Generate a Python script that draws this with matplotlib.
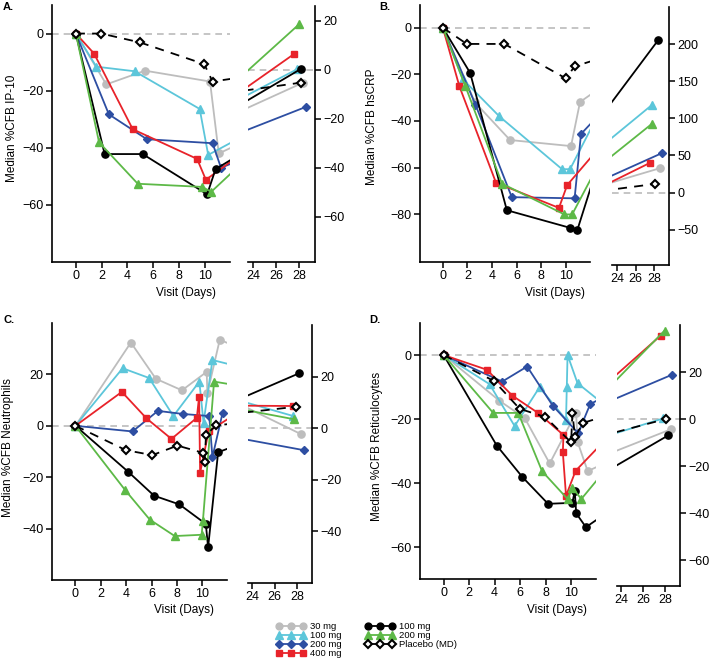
import matplotlib
matplotlib.use("Agg")
import matplotlib.pyplot as plt
from matplotlib.lines import Line2D

plt.rcParams['font.family'] = ['Liberation Sans', 'DejaVu Sans']

# ---------------- DATA ----------------
series_labels = ["30 mg", "100 mg", "200 mg", "400 mg", "100 mg", "200 mg", "Placebo (MD)"]
series_keys = ["sd30", "sd100", "sd200", "sd400", "md100", "md200", "pbo"]

# Panel A: IP-10
ip10_sd30_x = [0, 2.36, 5.36, 10.4, 11.08, 28.35]
ip10_sd30_y = [0, -17.8, -13.0, -16.8, -42.0, -5.3]
ip10_sd100_x = [0, 1.59, 4.55, 9.6, 10.26, 27.8]
ip10_sd100_y = [0, -11.6, -13.2, -26.4, -42.5, 0.1]
ip10_sd200_x = [0, 2.56, 5.5, 10.6, 11.25, 28.6]
ip10_sd200_y = [0, -28.3, -37.0, -38.4, -47.0, -15.2]
ip10_sd400_x = [0, 1.41, 4.41, 9.4, 10.08, 27.6]
ip10_sd400_y = [0, -7.0, -33.5, -43.9, -51.2, 6.5]
ip10_md100_x = [0, 2.23, 5.18, 10.18, 10.83, 28.2]
ip10_md100_y = [0, -42.2, -42.2, -56.3, -47.5, 0.4]
ip10_md200_x = [0, 1.8, 4.8, 9.78, 10.5, 28.0]
ip10_md200_y = [0, -38.1, -52.6, -53.7, -55.4, 18.5]
ip10_pbo_x = [0, 1.97, 4.97, 9.95, 10.6, 28.15]
ip10_pbo_y = [0, 0.0, -3.1, -10.7, -16.8, -5.3]

# Panel B: hsCRP
crp_sd30_x = [0, 2.6, 5.46, 10.41, 11.14, 28.6]
crp_sd30_y = [0, -32.0, -48.2, -50.8, -31.9, 32.8]
crp_sd100_x = [0, 1.6, 4.6, 9.68, 10.33, 27.75]
crp_sd100_y = [0, -22.0, -38.1, -60.7, -60.7, 118.0]
crp_sd200_x = [0, 2.65, 5.6, 10.7, 11.22, 28.8]
crp_sd200_y = [0, -33.0, -72.7, -73.2, -45.6, 53.0]
crp_sd400_x = [0, 1.35, 4.32, 9.43, 10.1, 27.6]
crp_sd400_y = [0, -25.2, -66.5, -77.3, -67.5, 40.4]
crp_md100_x = [0, 2.22, 5.2, 10.3, 10.92, 28.46]
crp_md100_y = [0, -19.4, -78.3, -85.8, -86.8, 205.8]
crp_md200_x = [0, 1.84, 4.81, 9.87, 10.5, 27.75]
crp_md200_y = [0, -25.2, -66.9, -80.1, -80.1, 92.6]
crp_pbo_x = [0, 1.95, 5.0, 10.0, 10.7, 28.1]
crp_pbo_y = [0, -7.0, -7.0, -21.8, -16.6, 11.7]

# Panel C: Neutrophils
neu_sd30_x = [0, 4.37, 6.34, 8.4, 10.35, 10.4, 11.38, 28.36]
neu_sd30_y = [0, 32.4, 18.3, 13.8, 21.0, 12.6, 33.5, -2.3]
neu_sd100_x = [0, 3.72, 5.81, 7.72, 9.77, 10.1, 10.8, 27.6]
neu_sd100_y = [0, 22.4, 18.6, 3.8, 17.2, 1.2, 25.6, 4.8]
neu_sd200_x = [0, 4.5, 6.5, 8.48, 10.55, 10.8, 11.6, 28.6]
neu_sd200_y = [0, -2.2, 5.8, 4.6, 3.8, -12.2, 5.0, -8.5]
neu_sd400_x = [0, 3.66, 5.6, 7.57, 9.57, 9.75, 9.83, 10.5, 14.0, 27.6]
neu_sd400_y = [0, 13.2, 2.9, -5.1, 3.1, 11.4, -18.3, -2.2, 9.0, 8.6]
neu_md100_x = [0, 4.16, 6.2, 8.2, 10.28, 10.46, 11.25, 28.2]
neu_md100_y = [0, -17.9, -27.2, -30.6, -38.2, -47.3, -10.3, 21.3]
neu_md200_x = [0, 3.9, 5.86, 7.83, 9.95, 10.05, 10.93, 27.7]
neu_md200_y = [0, -24.9, -36.5, -42.9, -42.4, -37.0, 17.2, 3.5]
neu_pbo_x = [0, 3.98, 6.07, 8.04, 10.05, 10.18, 10.3, 11.1, 27.9]
neu_pbo_y = [0, -9.5, -11.4, -7.7, -10.5, -14.1, -3.5, 0.2, 8.3]

# Panel D: Reticulocytes
ret_sd30_x = [0, 4.38, 6.36, 8.32, 10.39, 10.5, 11.3, 28.5]
ret_sd30_y = [0, -14.3, -19.7, -33.9, -18.0, -27.1, -36.3, -4.4]
ret_sd100_x = [0, 3.6, 5.57, 7.52, 9.6, 9.66, 9.72, 10.5, 14.0, 27.85]
ret_sd100_y = [0, -9.1, -22.2, -10.1, -20.2, -10.1, 0.0, -8.8, -20.0, 0.3]
ret_sd200_x = [0, 4.6, 6.55, 8.55, 10.57, 10.93, 11.5, 28.65]
ret_sd200_y = [0, -8.3, -3.6, -15.8, -24.5, -20.8, -15.3, 18.9]
ret_sd400_x = [0, 3.39, 5.39, 7.4, 9.4, 9.35, 9.6, 10.35, 27.6]
ret_sd400_y = [0, -4.6, -12.7, -18.1, -25.0, -30.4, -44.0, -36.2, 35.5]
ret_md100_x = [0, 4.17, 6.17, 8.19, 10.1, 10.28, 10.4, 11.16, 28.3]
ret_md100_y = [0, -28.3, -38.1, -46.5, -46.2, -42.5, -49.5, -53.8, -6.9]
ret_md200_x = [0, 3.89, 5.85, 7.72, 9.72, 10.1, 10.8, 27.95]
ret_md200_y = [0, -18.1, -18.1, -36.3, -45.0, -41.5, -45.0, 37.6]
ret_pbo_x = [0, 3.98, 5.96, 7.98, 10.0, 10.1, 10.3, 10.96, 28.05]
ret_pbo_y = [0, -8.2, -16.8, -19.4, -27.3, -18.2, -25.5, -21.2, 0.0]

left_xticks = [0, 2, 4, 6, 8, 10]
right_xticks = [24, 26, 28]

# ---------------- STYLE ----------------
STY = {
    "sd30": dict(color="#BDBDBD", marker="o", ms=5.2, ls="-"),
    "sd100": dict(color="#5CC6DA", marker="^", ms=6.2, ls="-"),
    "sd200": dict(color="#2D4EA2", marker="D", ms=4.5, ls="-"),
    "sd400": dict(color="#E8232A", marker="s", ms=5.0, ls="-"),
    "md100": dict(color="#000000", marker="o", ms=5.2, ls="-"),
    "md200": dict(color="#5DB947", marker="^", ms=6.2, ls="-"),
    "pbo": dict(color="#000000", marker="D", ms=4.3, ls=(0, (5, 4)), mfc="white", mec="black", mew=1.5),
}

W, H = 709, 663
fig = plt.figure(figsize=(W / 100, H / 100), dpi=100)


def ax_px(x0, x1, ytop, ybot):
    return fig.add_axes([x0 / W, 1 - ybot / H, (x1 - x0) / W, (ybot - ytop) / H])


def style_axes(ax, side):
    ax.spines["top"].set_visible(False)
    if side == "left":
        ax.spines["right"].set_visible(False)
    else:
        ax.spines["left"].set_visible(False)
        ax.yaxis.tick_right()
    for s in ax.spines.values():
        s.set_linewidth(1.2)
    ax.tick_params(labelsize=9, length=4, width=1.1, direction="out", pad=2)
    ax.set_facecolor("none")


def draw(axL, axR, data, ylimL, ylimR, yticksL, yticksR, xlimR):
    for ax in (axL, axR):
        ax.axhline(0, color="#BBBBBB", lw=1.2, ls=(0, (4, 3)), zorder=0)
        for key in series_keys:
            x, y = data[key]
            st = dict(STY[key])
            ax.plot(x, y, lw=1.3, clip_on=True, **st)
    axL.set_xlim(-1.85, 11.95)
    axR.set_xlim(*xlimR)
    axL.set_ylim(*ylimL)
    axR.set_ylim(*ylimR)
    axL.set_xticks(left_xticks)
    axR.set_xticks(right_xticks)
    axL.set_yticks(yticksL)
    axR.set_yticks(yticksR)
    axL.set_yticklabels([f"{v:g}".replace("-", "\u2212") for v in yticksL])
    axR.set_yticklabels([f"{v:g}".replace("-", "\u2212") for v in yticksR])
    style_axes(axL, "left")
    style_axes(axR, "right")


# Panel A
aL = ax_px(52, 230, 5, 262)
aR = ax_px(248, 315, 6, 262)
draw(aL, aR,
     {"sd30": (ip10_sd30_x, ip10_sd30_y), "sd100": (ip10_sd100_x, ip10_sd100_y),
      "sd200": (ip10_sd200_x, ip10_sd200_y), "sd400": (ip10_sd400_x, ip10_sd400_y),
      "md100": (ip10_md100_x, ip10_md100_y), "md200": (ip10_md200_x, ip10_md200_y),
      "pbo": (ip10_pbo_x, ip10_pbo_y)},
     (-80, 10), (-78.5, 26), [0, -20, -40, -60], [20, 0, -20, -40, -60], (23.55, 29.4))

# Panel B
bL = ax_px(420, 590, 5, 262)
bR = ax_px(612, 669, 7, 265)
draw(bL, bR,
     {"sd30": (crp_sd30_x, crp_sd30_y), "sd100": (crp_sd100_x, crp_sd100_y),
      "sd200": (crp_sd200_x, crp_sd200_y), "sd400": (crp_sd400_x, crp_sd400_y),
      "md100": (crp_md100_x, crp_md100_y), "md200": (crp_md200_x, crp_md200_y),
      "pbo": (crp_pbo_x, crp_pbo_y)},
     (-100.5, 9.7), (-97.5, 250), [0, -20, -40, -60, -80], [200, 150, 100, 50, 0, -50], (23.45, 29.6))

# Panel C
cL = ax_px(52, 227, 323, 580)
cR = ax_px(248, 312, 325, 583)
draw(cL, cR,
     {"sd30": (neu_sd30_x, neu_sd30_y), "sd100": (neu_sd100_x, neu_sd100_y),
      "sd200": (neu_sd200_x, neu_sd200_y), "sd400": (neu_sd400_x, neu_sd400_y),
      "md100": (neu_md100_x, neu_md100_y), "md200": (neu_md200_x, neu_md200_y),
      "pbo": (neu_pbo_x, neu_pbo_y)},
     (-60, 40), (-60, 40), [20, 0, -20, -40], [20, 0, -20, -40], (23.6, 29.35))

# Panel D
dL = ax_px(420, 596, 323, 579)
dR = ax_px(617, 680, 325, 586)
draw(dL, dR,
     {"sd30": (ret_sd30_x, ret_sd30_y), "sd100": (ret_sd100_x, ret_sd100_y),
      "sd200": (ret_sd200_x, ret_sd200_y), "sd400": (ret_sd400_x, ret_sd400_y),
      "md100": (ret_md100_x, ret_md100_y), "md200": (ret_md200_x, ret_md200_y),
      "pbo": (ret_pbo_x, ret_pbo_y)},
     (-70, 10), (-71, 40), [0, -20, -40, -60], [20, 0, -20, -40, -60], (23.65, 29.35))


def ftext(x, y, s, **kw):
    fig.text(x / W, 1 - y / H, s, **kw)


# Panel letters
ftext(3, 2, "A.", fontsize=8, fontweight="bold", va="top", ha="left")
ftext(379, 2, "B.", fontsize=8, fontweight="bold", va="top", ha="left")
ftext(3, 315, "C.", fontsize=8, fontweight="bold", va="top", ha="left")
ftext(369, 315, "D.", fontsize=8, fontweight="bold", va="top", ha="left")

# y labels
ftext(12, 128, "Median %CFB IP-10", fontsize=8.5, rotation=90, va="center", ha="center")
ftext(372, 127, "Median %CFB hsCRP", fontsize=8.5, rotation=90, va="center", ha="center")
ftext(8, 448, "Median %CFB Neutrophils", fontsize=8.5, rotation=90, va="center", ha="center")
ftext(377, 446, "Median %CFB Reticulocytes", fontsize=8.5, rotation=90, va="center", ha="center")

# x labels
ftext(186, 293, "Visit (Days)", fontsize=8.5, va="center", ha="center")
ftext(555, 293, "Visit (Days)", fontsize=8.5, va="center", ha="center")
ftext(184, 610, "Visit (Days)", fontsize=8.5, va="center", ha="center")
ftext(557, 610, "Visit (Days)", fontsize=8.5, va="center", ha="center")

# Legend
handles = []
for key in series_keys:
    st = dict(STY[key])
    st["ms"] = st["ms"] * 0.95
    handles.append(Line2D([], [], lw=1.3, **st))
fig.legend(handles, series_labels, ncol=2, loc="upper left",
           bbox_to_anchor=(276 / W, 1 - 622 / H), frameon=False, fontsize=6.8,
           handlelength=3.2, numpoints=3, labelspacing=0.0, columnspacing=2.4,
           handletextpad=0.45, borderpad=0, borderaxespad=0)

fig.savefig("out.png", dpi=100)
